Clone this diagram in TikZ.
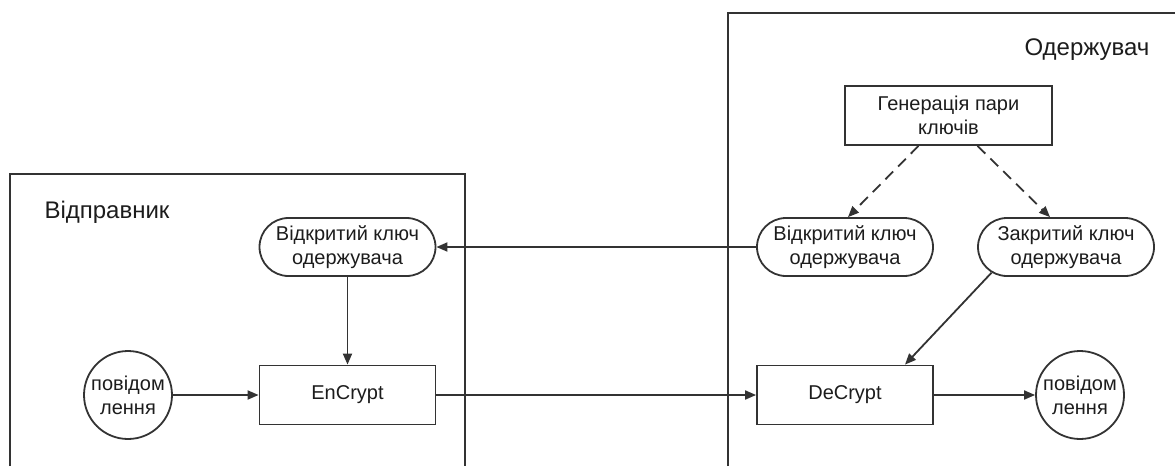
\documentclass[tikz,border=0pt]{standalone}
\usepackage{fontspec}
\setmainfont{Liberation Sans}
\usetikzlibrary{arrows.meta,shapes.misc}
\definecolor{ink}{HTML}{1C1C1C}
\definecolor{edge}{HTML}{333333}
\begin{document}
\begin{tikzpicture}[x=1pt,y=-1pt,
  every node/.style={text=ink},
  frame/.style={draw=edge, line width=1.8pt},
  title/.style={font=\fontsize{24}{28}\selectfont},
  label/.style={font=\fontsize{20}{24}\selectfont, align=center},
  procbox/.style={label, draw=edge, line width=1.8pt, rectangle,
    minimum width=176pt, minimum height=59pt, inner sep=0pt},
  keybox/.style={label, draw=edge, line width=1.8pt, rounded rectangle,
    minimum width=176pt, minimum height=58pt, inner sep=0pt},
  msgbox/.style={label, draw=edge, line width=1.8pt, circle,
    minimum size=88pt, inner sep=0pt},
  flow/.style={draw=edge, line width=1.8pt, -{Triangle[length=11pt,width=9pt]}},
  keyflow/.style={flow, dash pattern=on 11pt off 7pt}]
\useasboundingbox (0,0) rectangle (1175,466);

% sender and receiver frames (open towards the page edges)
\draw[frame] (10,466) -- (10,174) -- (465,174) -- (465,466);
\draw[frame] (728,466) -- (728,13) -- (1175,13);
\node[title, anchor=west] (tsend) at (41,212) {Відправник};
\node[title, anchor=east] (trecv) at (1153,50) {Одержувач};

% receiver side
\node[procbox, minimum width=207pt] (gen) at (948.5,115.5) {Генерація пари\\ключів};
\node[keybox] (pubR) at (845,247) {Відкритий ключ\\одержувача};
\node[keybox] (priv) at (1066,247) {Закритий ключ\\одержувача};
\node[procbox] (dec) at (845,395) {DeCrypt};
\node[msgbox] (msgR) at (1080,395) {повідом\\лення};

% sender side
\node[keybox] (pubS) at (347.5,247) {Відкритий ключ\\одержувача};
\node[procbox] (enc) at (347.5,395) {EnCrypt};
\node[msgbox] (msgS) at (128,395) {повідом\\лення};

% key generation
\draw[keyflow] ([xshift=-30pt]gen.south) -- ([xshift=3pt]pubR.north);
\draw[keyflow] ([xshift=29pt]gen.south) -- ([xshift=-16pt]priv.north);

% key and message flow
\draw[flow] (pubR.west) -- (pubS.east);
\draw[flow] (pubS.south) -- (enc.north);
\draw[flow] (msgS.east) -- (enc.west);
\draw[flow] (enc.east) -- (dec.west);
\draw[flow] (priv.199) -- ([xshift=60pt]dec.north);
\draw[flow] (dec.east) -- (msgR.west);
\end{tikzpicture}
\end{document}
